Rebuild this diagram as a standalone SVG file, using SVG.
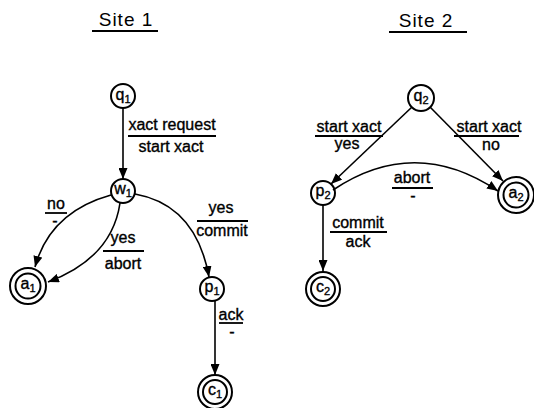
<svg xmlns="http://www.w3.org/2000/svg" width="534" height="408" viewBox="0 0 534 408">
<defs>
<style>
.bg{fill:#ffffff}
.st{fill:none;stroke:#000;stroke-width:2}
.edge{fill:none;stroke:#000;stroke-width:1.6}
.bar{stroke:#000;stroke-width:1.8}
.lbl{font-family:"Liberation Sans",Arial,sans-serif;font-size:16px;fill:#000;stroke:#000;stroke-width:0.35;text-anchor:middle}
.ttl{font-family:"Liberation Sans",Arial,sans-serif;font-size:19px;fill:#000;text-anchor:middle;letter-spacing:1px}
.nm{font-family:"Liberation Sans",Arial,sans-serif;font-size:16px;fill:#000;stroke:#000;stroke-width:0.35;text-anchor:middle}
.sub{font-size:11px}
</style>
<marker id="ah" viewBox="0 0 11 9" refX="11" refY="4.5" markerWidth="11" markerHeight="9" markerUnits="userSpaceOnUse" orient="auto">
<path d="M0,0 L11,4.5 L0,9 z" fill="#000"/>
</marker>
</defs>
<rect class="bg" x="0" y="0" width="534" height="408"/>

<g id="titles">
<text class="ttl" x="126" y="26">Site 1</text>
<line class="bar" x1="92" y1="31" x2="158" y2="31"/>
<text class="ttl" x="426" y="27">Site 2</text>
<line class="bar" x1="389" y1="32" x2="467" y2="32"/>
</g>

<g id="connectors">
<path class="edge" d="M123,108 L123,179" marker-end="url(#ah)"/>
<path class="edge" d="M111,195 Q50,212 35,267" marker-end="url(#ah)"/>
<path class="edge" d="M120,203 Q112,258 48,282" marker-end="url(#ah)"/>
<path class="edge" d="M135,194 Q196,205 209,277" marker-end="url(#ah)"/>
<path class="edge" d="M215,300 L215,375" marker-end="url(#ah)"/>
<path class="edge" d="M412,107 L331,184" marker-end="url(#ah)"/>
<path class="edge" d="M430,107 L503,181" marker-end="url(#ah)"/>
<path class="edge" d="M333,190 Q415,135 498,191" marker-end="url(#ah)"/>
<path class="edge" d="M323,205 L323,271" marker-end="url(#ah)"/>
</g>

<g id="labels">
<text class="lbl" x="172" y="130">xact request</text>
<line class="bar" x1="128" y1="136" x2="216" y2="136"/>
<text class="lbl" x="171" y="152">start xact</text>

<text class="lbl" x="56" y="209">no</text>
<line class="bar" x1="45" y1="213" x2="67" y2="213"/>
<text class="lbl" x="55" y="226">-</text>

<text class="lbl" x="123" y="243">yes</text>
<line class="bar" x1="103" y1="251" x2="144" y2="251"/>
<text class="lbl" x="123" y="269">abort</text>

<text class="lbl" x="221" y="213">yes</text>
<line class="bar" x1="197" y1="221" x2="248" y2="221"/>
<text class="lbl" x="222" y="236">commit</text>

<text class="lbl" x="231" y="320">ack</text>
<line class="bar" x1="219" y1="323" x2="243" y2="323"/>
<text class="lbl" x="232" y="337">-</text>

<text class="lbl" x="349" y="132">start xact</text>
<line class="bar" x1="315" y1="136" x2="383" y2="136"/>
<text class="lbl" x="347" y="149">yes</text>

<text class="lbl" x="489" y="132">start xact</text>
<line class="bar" x1="454" y1="136" x2="519" y2="136"/>
<text class="lbl" x="491" y="150">no</text>

<text class="lbl" x="412" y="183">abort</text>
<line class="bar" x1="392" y1="188" x2="433" y2="188"/>
<text class="lbl" x="413" y="201">-</text>

<text class="lbl" x="358" y="228">commit</text>
<line class="bar" x1="330" y1="232" x2="387" y2="232"/>
<text class="lbl" x="358" y="247">ack</text>
</g>

<g id="q1">
<circle class="st" cx="123" cy="96" r="12"/>
<text class="nm" x="123" y="100">q<tspan class="sub" dy="3">1</tspan></text>
</g>
<g id="w1">
<circle class="st" cx="123" cy="191" r="12"/>
<text class="nm" x="123" y="194">w<tspan class="sub" dy="3">1</tspan></text>
</g>
<g id="a1">
<circle class="st" cx="28" cy="286" r="18"/>
<circle class="st" cx="28" cy="286" r="12.5"/>
<text class="nm" x="28" y="289">a<tspan class="sub" dy="3">1</tspan></text>
</g>
<g id="p1">
<circle class="st" cx="212" cy="289" r="12"/>
<text class="nm" x="212" y="292">p<tspan class="sub" dy="3">1</tspan></text>
</g>
<g id="c1">
<circle class="st" cx="215" cy="392" r="17"/>
<circle class="st" cx="215" cy="392" r="12"/>
<text class="nm" x="215" y="395">c<tspan class="sub" dy="3">1</tspan></text>
</g>
<g id="q2">
<circle class="st" cx="421" cy="98" r="13"/>
<text class="nm" x="421" y="101">q<tspan class="sub" dy="3">2</tspan></text>
</g>
<g id="p2">
<circle class="st" cx="323" cy="193" r="12"/>
<text class="nm" x="323" y="196">p<tspan class="sub" dy="3">2</tspan></text>
</g>
<g id="a2">
<circle class="st" cx="516" cy="195" r="18"/>
<circle class="st" cx="516" cy="195" r="12.5"/>
<text class="nm" x="516" y="198">a<tspan class="sub" dy="3">2</tspan></text>
</g>
<g id="c2">
<circle class="st" cx="323" cy="289" r="17"/>
<circle class="st" cx="323" cy="289" r="12"/>
<text class="nm" x="323" y="292">c<tspan class="sub" dy="3">2</tspan></text>
</g>
</svg>
